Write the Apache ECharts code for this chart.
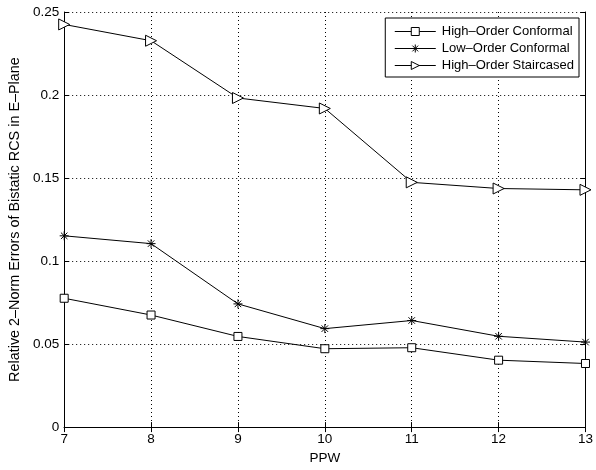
<!DOCTYPE html>
<html>
<head>
<meta charset="utf-8">
<script src="https://cdn.jsdelivr.net/npm/echarts@6/dist/echarts.min.js"></script>
<style>
  html, body { margin: 0; padding: 0; background: #fff; }
  #chart { width: 596px; height: 470px; }
</style>
</head>
<body>
<div id="chart"></div>
<script>
// PPW values on the x axis
const ppw = [7, 8, 9, 10, 11, 12, 13]
// errors
const highOrderConformal = [0.0776, 0.0675, 0.0546, 0.0472, 0.0478, 0.0403, 0.0383]
const lowOrderConformal = [0.1152, 0.1105, 0.0742, 0.0593, 0.0642, 0.0547, 0.0512]
const highOrderStaircased = [0.2425, 0.2327, 0.1982, 0.1919, 0.1474, 0.1437, 0.1429]
const seriesNames = ['High–Order Conformal', 'Low–Order Conformal', 'High–Order Staircased']

const FONT = 'Liberation Sans, Arial, Helvetica, sans-serif'
const pairs = vals => ppw.map((x, i) => [x, vals[i]])

// asterisk marker like matlab '*'
const STAR = 'path://M0,-5L0,5M-5,0L5,0M-3.6,-3.6L3.6,3.6M-3.6,3.6L3.6,-3.6'

const tickStyle = { show: true, inside: true, length: 5, lineStyle: { color: '#000', width: 1 } }
const axisLine = { show: true, lineStyle: { color: '#000', width: 1 } }
const gridLine = { show: true, lineStyle: { color: '#000', width: 1, type: [1, 3] } }

const mkSeries = (name, vals, symbol, size, extra) => Object.assign({
    name: name,
    type: 'line',
    data: pairs(vals),
    symbol: symbol,
    symbolSize: size,
    showAllSymbol: true,
    lineStyle: { color: '#000', width: 1 },
    itemStyle: { color: '#fff', borderColor: '#000', borderWidth: 1 },
    emphasis: { disabled: true },
    animation: false
}, extra || {})

const option = {
    backgroundColor: '#fff',
    animation: false,
    grid: { left: 60, right: 7, top: 12, bottom: 37 },
    legend: {
        orient: 'vertical',
        right: 17,
        top: 18,
        padding: [7, 5, 5, 9],
        itemGap: 4,
        itemWidth: 41,
        itemHeight: 10,
        backgroundColor: '#fff',
        borderColor: '#000',
        borderWidth: 1,
        borderRadius: 0,
        lineStyle: { width: 1 },
        itemStyle: { borderWidth: 1 },
        textStyle: { fontFamily: FONT, fontSize: 13, color: '#000', padding: [0, 0, 0, 1] },
        data: seriesNames
    },
    xAxis: [{
        type: 'value',
        min: 7, max: 13, interval: 1,
        name: 'PPW',
        nameLocation: 'middle',
        nameGap: 22,
        nameTextStyle: { fontFamily: FONT, fontSize: 13.5, color: '#000' },
        axisLine: axisLine,
        axisTick: tickStyle,
        axisLabel: { fontFamily: FONT, fontSize: 13.5, color: '#000', margin: 5 },
        splitLine: gridLine
    }, {
        type: 'value',
        position: 'top',
        min: 7, max: 13, interval: 1,
        axisLine: axisLine,
        axisTick: tickStyle,
        axisLabel: { show: false },
        splitLine: { show: false }
    }],
    yAxis: [{
        type: 'value',
        min: 0, max: 0.25, interval: 0.05,
        name: 'Relative 2–Norm Errors of Bistatic RCS in E–Plane',
        nameLocation: 'middle',
        nameGap: 39,
        nameTextStyle: { fontFamily: FONT, fontSize: 14.4, color: '#000' },
        axisLine: axisLine,
        axisTick: tickStyle,
        axisLabel: { fontFamily: FONT, fontSize: 13.5, color: '#000', margin: 5 },
        splitLine: gridLine
    }, {
        type: 'value',
        position: 'right',
        min: 0, max: 0.25, interval: 0.05,
        axisLine: axisLine,
        axisTick: tickStyle,
        axisLabel: { show: false },
        splitLine: { show: false }
    }],
    series: [
        mkSeries(seriesNames[0], highOrderConformal, 'rect', 8),
        mkSeries(seriesNames[1], lowOrderConformal, STAR, 9,
            { itemStyle: { color: 'none', borderColor: '#000', borderWidth: 1 } }),
        mkSeries(seriesNames[2], highOrderStaircased, 'triangle', 11, { symbolRotate: -90 })
    ]
}

var chartDom = document.getElementById('chart')
var myChart = echarts.init(chartDom)
myChart.setOption(option)
</script>
</body>
</html>
